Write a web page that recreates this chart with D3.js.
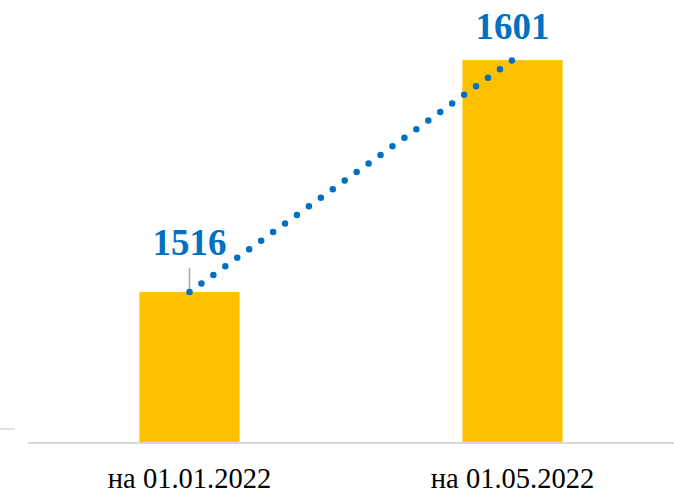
<!DOCTYPE html>
<meta charset="utf-8">
<style>
  body { margin: 0; background: #fff; }
  svg { display: block; }
</style>
<body>
<script src="https://cdn.jsdelivr.net/npm/d3@7"></script>
<script>
// data
var categories = ["на 01.01.2022", "на 01.05.2022"];
var values = [1516, 1601];

var width = 674, height = 493;
var axisY = 443;

var svg = d3.select("body").append("svg")
  .attr("width", width)
  .attr("height", height);

var x = d3.scaleBand()
  .domain(categories)
  .range([28, 674])
  .paddingInner(0.69)
  .paddingOuter(0.345);

var y = d3.scaleLinear()
  .domain([1460.7, 1620])
  .range([axisY, axisY - (1620 - 1460.7) * 2.729]);

// small stray gridline on the far left
svg.append("line")
  .attr("x1", 0).attr("x2", 15)
  .attr("y1", 429).attr("y2", 429)
  .attr("stroke", "#d9d9d9").attr("stroke-width", 1.5);

// bars
svg.selectAll("rect.bar")
  .data(values)
  .enter().append("rect")
  .attr("class", "bar")
  .attr("x", function(d, i){ return x(categories[i]); })
  .attr("y", function(d){ return y(d); })
  .attr("width", x.bandwidth())
  .attr("height", function(d){ return axisY - y(d); })
  .attr("fill", "#FFC000");

// baseline
svg.append("line")
  .attr("x1", 28).attr("x2", 674)
  .attr("y1", axisY).attr("y2", axisY)
  .attr("stroke", "#d9d9d9").attr("stroke-width", 2);

// leader line for first label
svg.append("line")
  .attr("x1", x(categories[0]) + x.bandwidth() / 2)
  .attr("x2", x(categories[0]) + x.bandwidth() / 2)
  .attr("y1", y(values[0]) - 24)
  .attr("y2", y(values[0]))
  .attr("stroke", "#a6a6a6").attr("stroke-width", 1.5);

// dotted line between bar tops
var line = d3.line()
  .x(function(d, i){ return x(categories[i]) + x.bandwidth() / 2; })
  .y(function(d){ return y(d); });

svg.append("path")
  .datum(values)
  .attr("d", line)
  .attr("fill", "none")
  .attr("stroke", "#0070C0")
  .attr("stroke-width", 6.5)
  .attr("stroke-linecap", "round")
  .attr("stroke-dasharray", "0 14.7");

// value labels
var labelY = [255, 39];
svg.selectAll("text.val")
  .data(values)
  .enter().append("text")
  .attr("class", "val")
  .attr("x", function(d, i){ return x(categories[i]) + x.bandwidth() / 2; })
  .attr("y", function(d, i){ return labelY[i]; })
  .attr("text-anchor", "middle")
  .style("font-family", "'Liberation Serif', 'Times New Roman', serif")
  .style("font-weight", "bold")
  .style("font-size", "37px")
  .attr("fill", "#0070C0")
  .text(function(d){ return d; });

// category labels
svg.selectAll("text.cat")
  .data(categories)
  .enter().append("text")
  .attr("class", "cat")
  .attr("x", function(d){ return x(d) + x.bandwidth() / 2; })
  .attr("y", 488)
  .attr("text-anchor", "middle")
  .style("font-family", "'Liberation Serif', 'Times New Roman', serif")
  .style("font-size", "28.5px")
  .attr("fill", "#000")
  .text(function(d){ return d; });
</script>
</body>
